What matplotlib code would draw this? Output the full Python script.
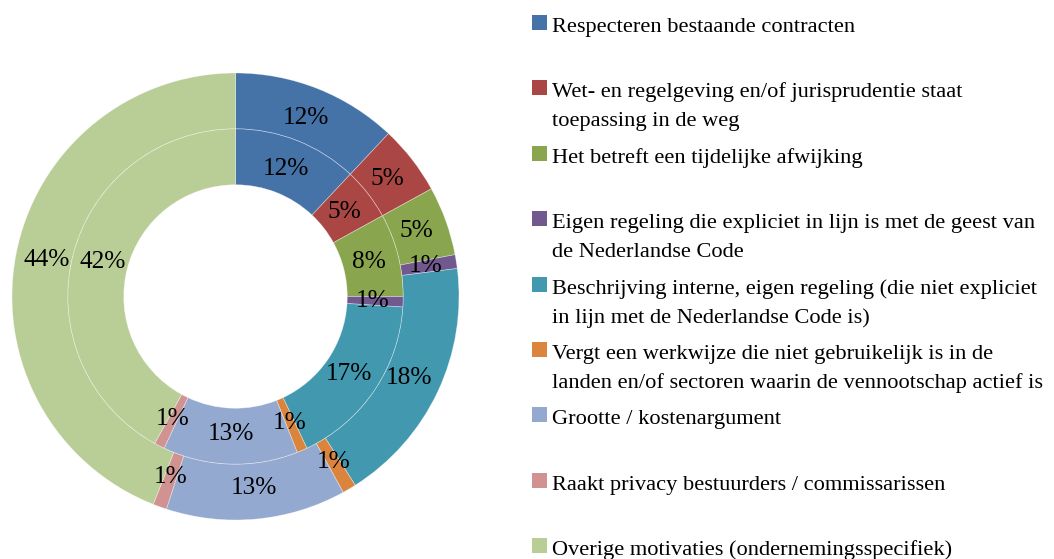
import matplotlib
matplotlib.use('Agg')
import matplotlib.pyplot as plt
from matplotlib.patches import Rectangle

categories = [
    "Respecteren bestaande contracten",
    "Wet- en regelgeving en/of jurisprudentie staat\ntoepassing in de weg",
    "Het betreft een tijdelijke afwijking",
    "Eigen regeling die expliciet in lijn is met de geest van\nde Nederlandse Code",
    "Beschrijving interne, eigen regeling (die niet expliciet\nin lijn met de Nederlandse Code is)",
    "Vergt een werkwijze die niet gebruikelijk is in de\nlanden en/of sectoren waarin de vennootschap actief is",
    "Grootte / kostenargument",
    "Raakt privacy bestuurders / commissarissen",
    "Overige motivaties (ondernemingsspecifiek)",
]
outer_values = [12, 5, 5, 1, 18, 1, 13, 1, 44]
inner_values = [12, 5, 8, 1, 17, 1, 13, 1, 42]
colors = ["#4572A7", "#AA4643", "#89A54E", "#71588F", "#4198AF",
          "#DB843D", "#93A9CF", "#D19392", "#B9CD96"]

SERIF = "Liberation Serif"
W, H = 1054, 559
fig = plt.figure(figsize=(W / 100, H / 100), dpi=100)
ax = fig.add_axes([12 / W, 39 / H, 447 / W, 447 / H])

edge = dict(edgecolor=(1, 1, 1, 0.45), linewidth=0.5)
tp = dict(fontfamily=SERIF, fontsize=18.3, color="black")
ax.pie(outer_values, radius=1.0, colors=colors, startangle=90, counterclock=False,
       wedgeprops=dict(width=0.25, **edge), autopct=lambda p: f"{p:.0f}%",
       pctdistance=0.86, textprops=tp)
ax.pie(inner_values, radius=0.75, colors=colors, startangle=90, counterclock=False,
       wedgeprops=dict(width=0.25, **edge), autopct=lambda p: f"{p:.0f}%",
       pctdistance=0.82, textprops=tp)
ax.set_xlim(-1, 1)
ax.set_ylim(-1, 1)
ax.set_aspect("equal")
ax.axis("off")

# Legend
for i, (lab, col) in enumerate(zip(categories, colors)):
    yc = 22.5 + 65.4 * i
    fig.patches.append(Rectangle((532 / W, 1 - (yc + 7.5) / H), 14.5 / W, 15 / H,
                                 facecolor=col, edgecolor="none",
                                 transform=fig.transFigure, figure=fig))
    for j, line in enumerate(lab.split("\n")):
        yb = yc + 9.5 + 29 * j
        fig.text(552 / W, 1 - yb / H, line, fontfamily=SERIF, fontsize=16.1,
                 va="baseline", ha="left", color="black")

fig.savefig("out.png", dpi=100)
